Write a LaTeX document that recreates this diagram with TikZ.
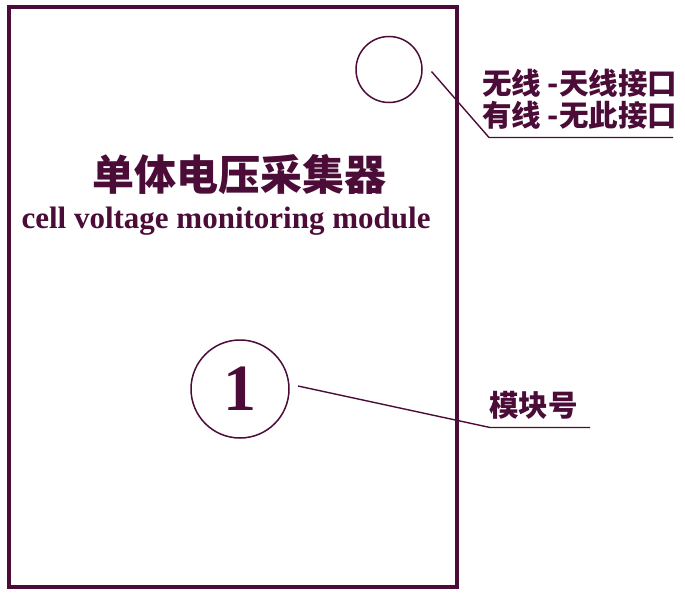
\documentclass[tikz,border=0pt]{standalone}
\usepackage{fontspec}
\setmainfont{Liberation Serif}
\newfontfamily\cjk{Noto Sans CJK SC}
\usetikzlibrary{positioning}
\definecolor{plum}{RGB}{75,12,55}
\begin{document}
\begin{tikzpicture}[x=1pt,y=-1pt,
  every node/.style={text=plum,inner sep=0pt},
  ring/.style={draw=plum,circle,line width=1.5pt},
  leader/.style={draw=plum,line width=1.4pt},
  tag/.style={font=\cjk\bfseries\fontsize{29.5}{31}\selectfont,anchor=west}]
\useasboundingbox (0,0) rectangle (685,594);
% the module housing
\draw[plum,line width=4pt] (8.5,7) rectangle (457,587);
% the names of the module
\node[font=\cjk\bfseries\fontsize{42}{44}\selectfont] (title) at (239,175) {单体电压采集器};
\node[font=\bfseries\fontsize{31}{33}\selectfont,anchor=base] (subtitle) at (226,228) {cell voltage monitoring module};
% the antenna port and the module number
\node[ring,minimum size=66] (port) at (389,69.5) {};
\node[ring,minimum size=98,font=\bfseries\fontsize{66}{66}\selectfont] (num) at (240,389) {1};
% the callouts
\node[tag] (wireless) at (482,83) {无线 -天线接口};
\node[tag] (wired) at (482,115) {有线 -无此接口};
\node[tag] (numtag) at (489,405) {模块号};
\coordinate (porttip) at (431.5,71.5);
\coordinate (portkink) at (489,137.5);
\coordinate (portend) at (673,137.5);
\coordinate (numtip) at (298,386);
\coordinate (numkink) at (490,427.5);
\coordinate (numend) at (590,427.5);
\draw[leader] (porttip) -- (portkink) -- (portend);
\draw[leader] (numtip) -- (numkink) -- (numend);
\end{tikzpicture}
\end{document}
